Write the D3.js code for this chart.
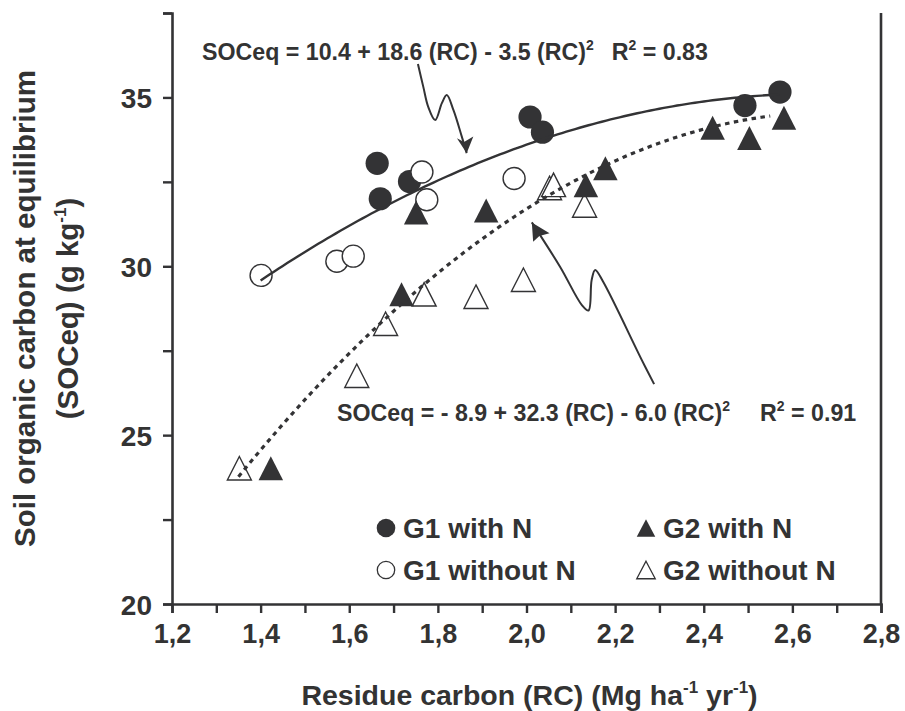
<!DOCTYPE html>
<html>
<head>
<meta charset="utf-8">
<script src="https://cdn.jsdelivr.net/npm/d3@7"></script>
<style>
  body { margin: 0; background: #fff; }
  svg { display: block; }
  text { font-family: "Liberation Sans", Arial, Helvetica, sans-serif; font-weight: bold; fill: #333; }
</style>
</head>
<body>
<svg id="chart" width="905" height="711"></svg>
<script>
// Residue carbon (RC, Mg ha-1 yr-1) vs. equilibrium soil organic carbon (SOCeq, g kg-1)
const g1WithN = [
  [1.663, 33.05], [1.670, 32.00], [1.736, 32.51], [2.008, 34.42],
  [2.036, 33.97], [2.493, 34.76], [2.572, 35.16]
];
const g1WithoutN = [
  [1.401, 29.73], [1.572, 30.15], [1.609, 30.30], [1.764, 32.79],
  [1.775, 31.97], [1.972, 32.60]
];
const g2WithN = [
  [1.423, 24.02], [1.718, 29.17], [1.751, 31.59], [1.909, 31.65],
  [2.134, 32.40], [2.178, 32.90], [2.420, 34.10], [2.503, 33.80], [2.581, 34.40]
];
const g2WithoutN = [
  [1.352, 24.02], [1.617, 26.76], [1.682, 28.30], [1.769, 29.17],
  [1.886, 29.10], [1.993, 29.60], [2.052, 32.32], [2.061, 32.41], [2.131, 31.80]
];

// Quadratic fits: SOCeq = a + b*RC + c*RC^2, with the RC span each fit is drawn over
const fitG1 = { a: 10.4, b: 18.6, c: -3.5, from: 1.40, to: 2.57 };
const fitG2 = { a: -8.9, b: 32.3, c: -6.0, from: 1.35, to: 2.55 };

const xTickValues = d3.range(0, 17).map(i => +(1.2 + i * 0.1).toFixed(1));
const yTickValues = [20, 22.5, 25, 27.5, 30, 32.5, 35, 37.5];
const yLabelValues = [20, 25, 30, 35];

// Callout arrows, in data units (RC, SOCeq), ending at the arrow tip
const arrowG1 = [[1.755, 35.99], [1.767, 35.32], [1.778, 34.73], [1.794, 34.33],
  [1.809, 34.83], [1.820, 35.07], [1.835, 34.63], [1.854, 33.84], [1.865, 33.35]];
const arrowG1Head = [[1.865, 33.35], [1.843, 33.79], [1.859, 33.68], [1.880, 33.84]];
const arrowG2 = [[2.288, 26.51], [2.260, 27.23], [2.173, 29.54], [2.155, 29.89],
  [2.147, 29.59], [2.140, 28.69], [2.125, 28.85], [2.076, 29.98], [2.012, 31.30]];
const arrowG2Head = [[2.012, 31.30], [2.015, 30.73], [2.029, 30.90], [2.052, 30.98]];

const ink = "#333335";
const svg = d3.select("#chart");

const x = d3.scaleLinear().domain([1.2, 2.8]).range([172, 881]);
const y = d3.scaleLinear().domain([20, 37.5]).range([604, 13]);

// Axes
const fmtComma = d => d3.format(".1f")(d).replace(".", ",");
const xAxis = d3.axisBottom(x).tickValues(xTickValues).tickSize(9).tickPadding(11)
  .tickFormat((d, i) => i % 2 === 0 ? fmtComma(d) : "");
const yAxis = d3.axisLeft(y).tickValues(yTickValues).tickSize(9).tickPadding(11)
  .tickFormat(d => yLabelValues.includes(d) ? d : "");

const gx = svg.append("g").attr("transform", `translate(0,${y(20)})`).call(xAxis);
const gy = svg.append("g").attr("transform", `translate(${x(1.2)},0)`).call(yAxis);
[gx, gy].forEach(g => {
  g.select(".domain").attr("stroke", ink).attr("stroke-width", 2.6);
  g.selectAll(".tick line").attr("stroke", ink).attr("stroke-width", 2.4);
  g.selectAll(".tick text").attr("fill", "#333").style("font-weight", "bold");
});
gx.selectAll(".tick text").style("font-size", "27px");
gy.selectAll(".tick text").style("font-size", "28px").attr("dy", "0.36em");

// Right frame edge
svg.append("line")
  .attr("x1", x(2.8)).attr("x2", x(2.8)).attr("y1", y(37.5)).attr("y2", y(20))
  .attr("stroke", ink).attr("stroke-width", 2.6);

// Axis titles
const xt = svg.append("text").attr("x", (x(1.2) + x(2.8)) / 2 + 3).attr("y", 705)
  .attr("text-anchor", "middle").style("font-size", "28.5px").attr("fill", "#444");
xt.append("tspan").text("Residue carbon (RC) (Mg ha");
xt.append("tspan").text("-1").attr("dy", -12).style("font-size", "17px");
xt.append("tspan").text(" yr").attr("dy", 12);
xt.append("tspan").text("-1").attr("dy", -12).style("font-size", "17px");
xt.append("tspan").text(")").attr("dy", 12);

const yMid = (y(20) + y(37.5)) / 2;
svg.append("text").attr("transform", `translate(35,${yMid}) rotate(-90)`)
  .attr("text-anchor", "middle").style("font-size", "29.5px").attr("fill", "#444")
  .text("Soil organic carbon at equilibrium");
const yt2 = svg.append("text").attr("transform", `translate(78,${yMid}) rotate(-90)`)
  .attr("text-anchor", "middle").style("font-size", "29.5px").attr("fill", "#444");
yt2.append("tspan").text("(SOCeq) (g kg");
yt2.append("tspan").text("-1").attr("dy", -12).style("font-size", "17px");
yt2.append("tspan").text(")").attr("dy", 12);

// Marker shapes
const triPath = (cx, cy, w, h) =>
  `M${cx},${cy - h / 2}L${cx + w / 2},${cy + h / 2}L${cx - w / 2},${cy + h / 2}Z`;

const plot = svg.append("g");
plot.selectAll(".g1n").data(g1WithN).join("circle")
  .attr("cx", d => x(d[0])).attr("cy", d => y(d[1])).attr("r", 11.6).attr("fill", ink);
plot.selectAll(".g1o").data(g1WithoutN).join("circle")
  .attr("cx", d => x(d[0])).attr("cy", d => y(d[1])).attr("r", 11)
  .attr("fill", "#fff").attr("stroke", ink).attr("stroke-width", 1.4);
plot.selectAll(".g2o").data(g2WithoutN).join("path")
  .attr("d", d => triPath(x(d[0]), y(d[1]), 24, 23.5))
  .attr("fill", "#fff").attr("stroke", ink).attr("stroke-width", 1.4);
plot.selectAll(".g2n").data(g2WithN).join("path")
  .attr("d", d => triPath(x(d[0]), y(d[1]), 24.5, 24)).attr("fill", ink);

// Fitted curves
const fitPoints = f => d3.range(f.from, f.to + 1e-9, 0.01)
  .map(rc => [rc, f.a + f.b * rc + f.c * rc * rc]);
const line = d3.line().x(d => x(d[0])).y(d => y(d[1]));
svg.append("path").attr("d", line(fitPoints(fitG1)))
  .attr("fill", "none").attr("stroke", ink).attr("stroke-width", 2.4);
svg.append("path").attr("d", line(fitPoints(fitG2)))
  .attr("fill", "none").attr("stroke", ink).attr("stroke-width", 3.2)
  .attr("stroke-dasharray", "4.5,4.5");

// Callout arrows
const curvy = d3.line().x(d => x(d[0])).y(d => y(d[1])).curve(d3.curveCatmullRom.alpha(0.5));
[[arrowG1, arrowG1Head], [arrowG2, arrowG2Head]].forEach(([pts, head]) => {
  svg.append("path").attr("d", curvy(pts)).attr("fill", "none")
    .attr("stroke", ink).attr("stroke-width", 2);
  svg.append("path").attr("d", "M" + head.map(p => `${x(p[0])},${y(p[1])}`).join("L") + "Z")
    .attr("fill", ink);
});

// Fit equations
function equation(xPos, yPos, lead, gap, tail) {
  const t = svg.append("text").attr("x", xPos).attr("y", yPos).style("font-size", "23.2px");
  t.append("tspan").text(lead);
  t.append("tspan").text("2").attr("dy", -10).style("font-size", "14px");
  t.append("tspan").text("R").attr("dy", 10).attr("dx", gap);
  t.append("tspan").text("2").attr("dy", -10).style("font-size", "14px");
  t.append("tspan").text(tail).attr("dy", 10);
}
equation(202, 60, "SOCeq = 10.4 + 18.6 (RC) - 3.5 (RC)", 18, " = 0.83");
equation(337, 421, "SOCeq = - 8.9 + 32.3 (RC) - 6.0 (RC)", 30, " = 0.91");

// Legend
const legendItems = [
  { label: "G1 with N", shape: "circle", filled: true, lx: 386, ly: 528 },
  { label: "G1 without N", shape: "circle", filled: false, lx: 386, ly: 570 },
  { label: "G2 with N", shape: "triangle", filled: true, lx: 646, ly: 528 },
  { label: "G2 without N", shape: "triangle", filled: false, lx: 646, ly: 570 }
];
legendItems.forEach(it => {
  if (it.shape === "circle") {
    svg.append("circle").attr("cx", it.lx).attr("cy", it.ly).attr("r", it.filled ? 9.3 : 8.7)
      .attr("fill", it.filled ? ink : "#fff").attr("stroke", it.filled ? "none" : ink)
      .attr("stroke-width", 1.3);
  } else {
    svg.append("path").attr("d", triPath(it.lx, it.ly, 18.5, 17.5))
      .attr("fill", it.filled ? ink : "#fff").attr("stroke", it.filled ? "none" : ink)
      .attr("stroke-width", 1.3);
  }
  svg.append("text").attr("x", it.lx + 17).attr("y", it.ly + 9.5)
    .style("font-size", "28px").text(it.label);
});
</script>
</body>
</html>
